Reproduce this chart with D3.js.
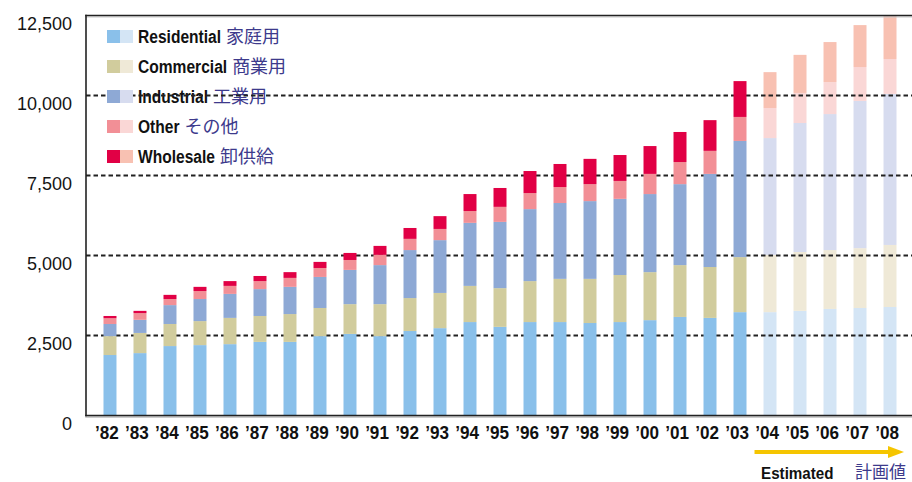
<!DOCTYPE html>
<html>
<head>
<meta charset="utf-8">
<script src="https://cdn.jsdelivr.net/npm/d3@7"></script>
<style>
  body { margin: 0; background: #fff; }
  svg { display: block; }
</style>
</head>
<body>
<div id="container"></div>
<script>
// stacked bars: electricity sales by sector, actual '82-'03 and estimated '04-'08

const years = ["’82","’83","’84","’85","’86","’87","’88","’89","’90","’91","’92","’93","’94",
               "’95","’96","’97","’98","’99","’00","’01","’02","’03","’04","’05","’06","’07","’08"];
const firstEstimated = "’04";

const residential = [1890,1950,2170,2200,2230,2300,2300,2480,2550,2480,2640,2730,2920,
                     2770,2920,2920,2890,2920,2980,3080,3050,3230,3230,3270,3330,3360,3390];
const commercial  = [590,630,690,750,820,810,870,880,930,1000,1030,1100,1130,
                     1210,1280,1350,1380,1470,1500,1620,1590,1720,1790,1840,1840,1870,1940];
const industrial  = [380,410,590,690,750,840,850,970,1070,1220,1500,1650,1970,
                     2070,2250,2370,2430,2380,2440,2530,2910,3630,3650,4030,4250,4600,4720];
const other       = [180,210,190,250,250,250,280,280,310,320,350,350,370,
                     470,500,500,530,560,630,690,720,750,940,940,1000,1060,1090];
const wholesale   = [70,70,130,130,150,160,180,190,220,280,340,400,530,
                     590,690,720,790,810,870,940,960,1120,1120,1190,1250,1310,1340];

const yTicks = [0, 2500, 5000, 7500, 10000, 12500];

const seriesKeys = ["residential","commercial","industrial","other","wholesale"];
const seriesLabels = [
  ["Residential", "家庭用"],
  ["Commercial", "商業用"],
  ["Industrial", "工業用"],
  ["Other", "その他"],
  ["Wholesale", "卸供給"]
];
const colors = {
  residential: ["#8ac0ea", "#d4e5f5"],
  commercial:  ["#d1cc9d", "#efe9d7"],
  industrial:  ["#8ea9d5", "#d7dcef"],
  other:       ["#f28f96", "#fad7d6"],
  wholesale:   ["#e10045", "#f8c1b2"]
};

const table = years.map((yr, i) => ({
  year: yr,
  residential: residential[i],
  commercial: commercial[i],
  industrial: industrial[i],
  other: other[i],
  wholesale: wholesale[i]
}));

const width = 912, height = 482;
const plotLeft = 86, plotRight = 912, plotTop = 15.5, plotBottom = 415.5;

const svg = d3.select("#container").append("svg")
  .attr("width", width)
  .attr("height", height);

const x = d3.scaleBand()
  .domain(years)
  .range([95, 905])
  .paddingInner(0.567)
  .paddingOuter(0.283);

const y = d3.scaleLinear()
  .domain([0, 12500])
  .range([plotBottom, plotTop]);

const stacked = d3.stack().keys(seriesKeys)(table);
const estIndex = years.indexOf(firstEstimated);
const isEst = d => years.indexOf(d.data.year) >= estIndex;

// no condensed face installed, so squeeze Liberation Sans horizontally
const sans = "'Liberation Sans', Arial, sans-serif";
const cjk = "'Noto Sans CJK JP', sans-serif";
const squeeze = 0.82;

// legend text (sits under the grid lines)
const legendText = svg.append("g");
seriesLabels.forEach(function(lab, i){
  const ty = 43 + i * 30;
  const en = legendText.append("text")
    .attr("transform", `translate(138,${ty}) scale(${squeeze},1)`)
    .style("font-family", sans)
    .style("font-size", "19px")
    .style("font-weight", "bold")
    .attr("fill", "#111")
    .text(lab[0]);
  const w = en.node().getComputedTextLength() * squeeze;
  legendText.append("text")
    .attr("x", 138 + w + 5)
    .attr("y", ty)
    .style("font-family", cjk)
    .style("font-size", "18px")
    .attr("fill", "#3d3a8c")
    .text(lab[1]);
});

// estimated bars go under the grid
function drawBars(g, filt, shade){
  g.selectAll("g")
    .data(stacked)
    .join("g")
    .attr("fill", s => colors[s.key][shade])
    .selectAll("rect")
    .data(s => s.filter(filt))
    .join("rect")
    .attr("x", d => x(d.data.year))
    .attr("width", x.bandwidth())
    .attr("y", d => y(d[1]))
    .attr("height", d => y(d[0]) - y(d[1]));
}

drawBars(svg.append("g"), isEst, 1);

// dashed grid
svg.append("g")
  .selectAll("line")
  .data(yTicks.filter(v => v > 0 && v < 12500))
  .join("line")
  .attr("x1", plotLeft)
  .attr("x2", plotRight)
  .attr("y1", d => y(d))
  .attr("y2", d => y(d))
  .attr("stroke", "#222")
  .attr("stroke-width", 2)
  .attr("stroke-dasharray", "4.5,3");

drawBars(svg.append("g"), d => !isEst(d), 0);

// legend swatches above the grid
const swatches = svg.append("g");
seriesKeys.forEach(function(k, i){
  swatches.append("rect")
    .attr("x", 107).attr("y", 30 + i * 30)
    .attr("width", 13).attr("height", 13)
    .attr("fill", colors[k][0]);
  swatches.append("rect")
    .attr("x", 120).attr("y", 30 + i * 30)
    .attr("width", 13).attr("height", 13)
    .attr("fill", colors[k][1]);
});

// frame lines
const frame = svg.append("g").attr("stroke-linecap", "square");
frame.append("line")
  .attr("x1", plotLeft).attr("x2", plotRight).attr("y1", plotTop + 1.5).attr("y2", plotTop + 1.5)
  .attr("stroke", "#c8c8c8").attr("stroke-width", 1);
frame.append("line")
  .attr("x1", plotLeft).attr("x2", plotRight).attr("y1", plotTop).attr("y2", plotTop)
  .attr("stroke", "#222").attr("stroke-width", 1.6);
frame.append("line")
  .attr("x1", plotLeft).attr("x2", plotRight).attr("y1", plotBottom + 1.5).attr("y2", plotBottom + 1.5)
  .attr("stroke", "#bbb").attr("stroke-width", 1.5);
frame.append("line")
  .attr("x1", plotLeft).attr("x2", plotRight).attr("y1", plotBottom).attr("y2", plotBottom)
  .attr("stroke", "#222").attr("stroke-width", 1.6);
frame.append("line")
  .attr("x1", plotLeft).attr("x2", plotLeft).attr("y1", plotTop).attr("y2", plotBottom)
  .attr("stroke", "#222").attr("stroke-width", 1.6);

// y labels hang under their grid lines
svg.append("g")
  .selectAll("text")
  .data(yTicks)
  .join("text")
  .attr("x", 72)
  .attr("y", d => y(d) + 14.5)
  .attr("text-anchor", "end")
  .style("font-family", sans)
  .style("font-size", "18px")
  .attr("fill", "#151515")
  .text(d => d3.format(",")(d));

// x labels
svg.append("g")
  .selectAll("text")
  .data(years)
  .join("text")
  .attr("transform", d => `translate(${x(d) + x.bandwidth() / 2 - 3},439) scale(0.9,1)`)
  .attr("text-anchor", "middle")
  .style("font-family", sans)
  .style("font-size", "19px")
  .style("font-weight", "bold")
  .attr("fill", "#111")
  .text(d => d);

// estimated arrow
const ax0 = x(firstEstimated) - 9, ay = 452;
svg.append("line")
  .attr("x1", ax0).attr("x2", 892)
  .attr("y1", ay).attr("y2", ay)
  .attr("stroke", "#f5c500").attr("stroke-width", 4);
svg.append("path")
  .attr("d", `M888,${ay - 6}L904,${ay}L888,${ay + 6}Z`)
  .attr("fill", "#f5c500");

svg.append("text")
  .attr("transform", "translate(761,479) scale(0.95,1)")
  .style("font-family", sans)
  .style("font-size", "16px")
  .style("font-weight", "bold")
  .attr("fill", "#111")
  .text("Estimated");
svg.append("text")
  .attr("x", 855).attr("y", 478)
  .style("font-family", cjk)
  .style("font-size", "17px")
  .attr("fill", "#3d3a8c")
  .text("計画値");
</script>
</body>
</html>
